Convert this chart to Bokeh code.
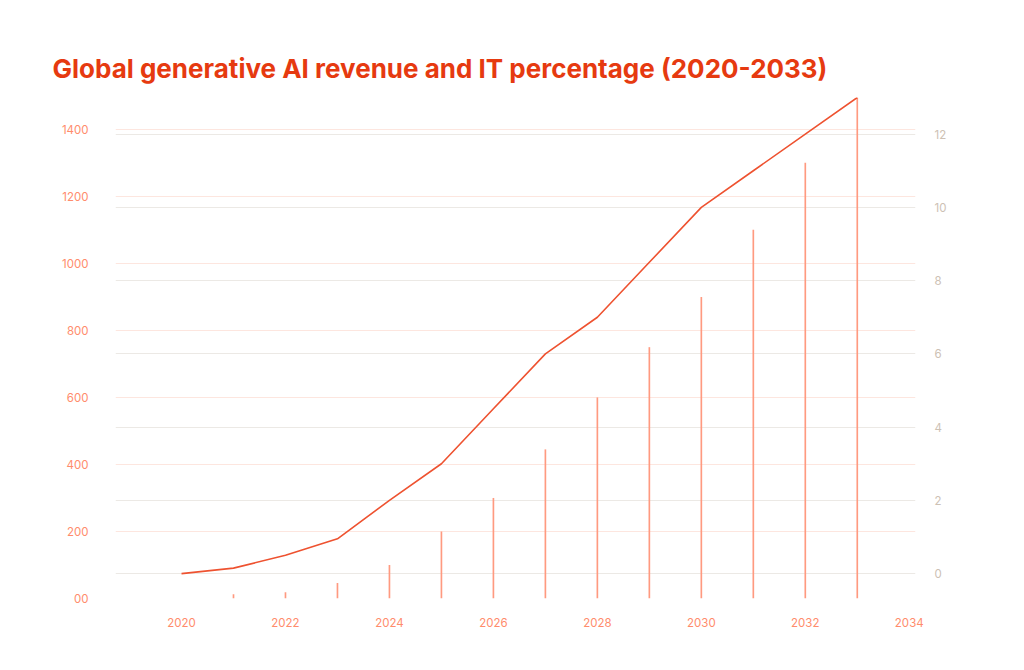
from bokeh.plotting import figure
from bokeh.models import Range1d, LinearAxis, FixedTicker, Grid, Title
from bokeh.embed import file_html
from bokeh.resources import INLINE

years = [2020, 2021, 2022, 2023, 2024, 2025, 2026, 2027, 2028, 2029, 2030, 2031, 2032, 2033]
revenue = [0, 13, 19, 46, 100, 200, 300, 445, 600, 750, 900, 1100, 1300, 1495]
it_pct = [0, 0.15, 0.5, 0.95, 2, 3, 4.5, 6, 7, 8.5, 10, 11, 12, 13]

left_ticks = [0, 200, 400, 600, 800, 1000, 1200, 1400]
left_labels = {0: "00"}
right_ticks = [0, 2, 4, 6, 8, 10, 12]
x_ticks = [2020, 2022, 2024, 2026, 2028, 2030, 2032, 2034]

TITLE = "Global generative AI revenue and IT percentage (2020-2033)"
FONT = "Inter"

p = figure(width=1008, height=660, output_backend="svg", toolbar_location=None,
           x_range=Range1d(2018.73, 2034.12), y_range=Range1d(0, 1495),
           min_border_left=115, min_border_right=93, min_border_top=97, min_border_bottom=62)
p.title = None
p.outline_line_color = None
p.background_fill_color = "white"
p.border_fill_color = "white"

p.extra_y_ranges = {"pct": Range1d(-0.68, 13.0)}

# title
t = Title(text=TITLE, align="left", offset=-63, standoff=28,
          text_font=FONT, text_font_size="26px", text_font_style="bold",
          text_color="#e63a10")
p.add_layout(t, "above")

# grids
p.xgrid.grid_line_color = None
p.ygrid.ticker = FixedTicker(ticks=left_ticks)
p.ygrid.grid_line_color = "#fde6df"
p.ygrid.grid_line_width = 1
rgrid = Grid(dimension=1, y_range_name="pct", ticker=FixedTicker(ticks=right_ticks),
             grid_line_color="#ece9e5", grid_line_width=1)
p.add_layout(rgrid)

# axes
xa = p.xaxis[0]
xa.ticker = FixedTicker(ticks=x_ticks)
xa.axis_line_color = None
xa.major_tick_line_color = None
xa.minor_tick_line_color = None
xa.major_label_text_color = "#ff8c6c"
xa.major_label_text_font = FONT
xa.major_label_text_font_size = "11.5px"
xa.major_label_standoff = 13

ya = p.yaxis[0]
ya.ticker = FixedTicker(ticks=left_ticks)
ya.major_label_overrides = left_labels
ya.axis_line_color = None
ya.major_tick_line_color = None
ya.minor_tick_line_color = None
ya.major_label_text_color = "#ff8c6c"
ya.major_label_text_font = FONT
ya.major_label_text_font_size = "11.5px"
ya.major_label_standoff = 21

ra = LinearAxis(y_range_name="pct", ticker=FixedTicker(ticks=right_ticks))
ra.axis_line_color = None
ra.major_tick_line_color = None
ra.minor_tick_line_color = None
ra.major_label_text_color = "#cdc1b4"
ra.major_label_text_font = FONT
ra.major_label_text_font_size = "11.5px"
ra.major_label_standoff = 13
p.add_layout(ra, "right")

# bars (revenue)
p.vbar(x=years, top=revenue, bottom=0, width=0.032, fill_color="#ff9a80", line_color=None)

# line (IT percentage)
p.line(x=years, y=it_pct, y_range_name="pct", line_color="#ee5230", line_width=1.6)

open("out.html", "w").write(file_html(p, INLINE))
